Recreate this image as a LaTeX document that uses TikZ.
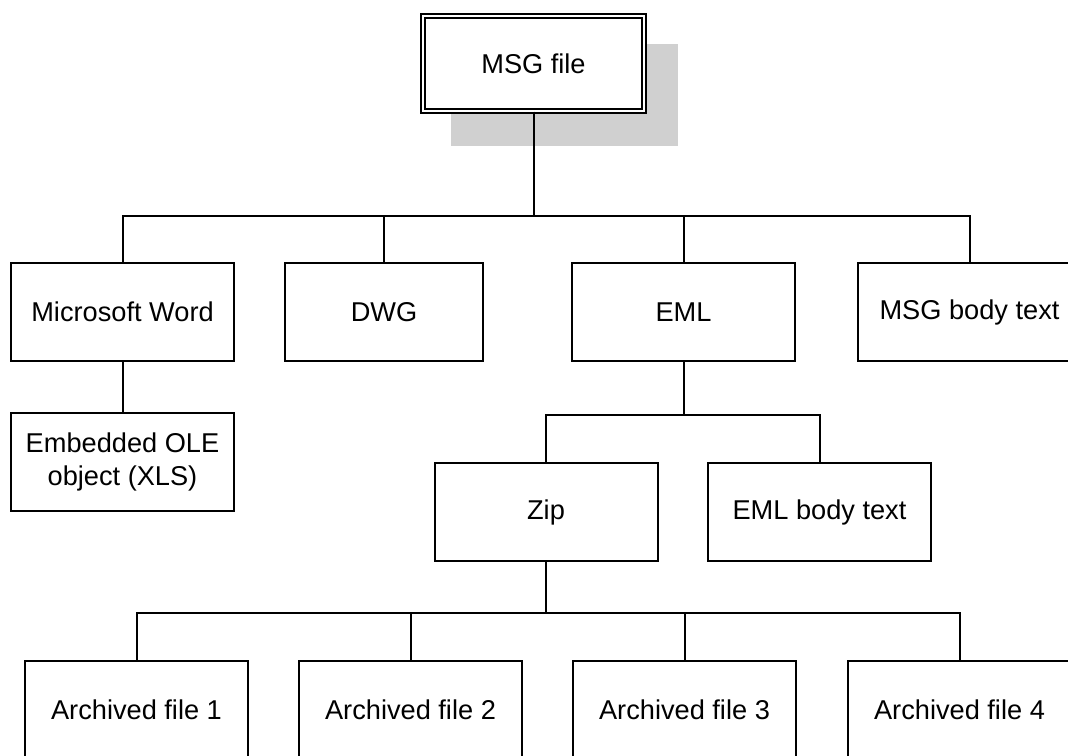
\documentclass[tikz,border=0pt]{standalone}
\usepackage{fontspec}
\setmainfont{Liberation Sans}
\definecolor{shadowgray}{HTML}{D0D0D0}
\begin{document}
\begin{tikzpicture}[x=0.75pt,y=-0.75pt,
  box/.style={draw, line width=1.5pt, fill=white, minimum width=167.25pt, minimum height=73.5pt,
    inner sep=0pt, align=center, font=\fontsize{20.4}{25}\selectfont},
  narrowbox/.style={box, minimum width=148.5pt},
  rootbox/.style={box, double, double distance=1.6pt, line width=1.5pt, minimum width=165.75pt, minimum height=71.25pt},
  shadowbox/.style={fill=shadowgray, draw=none, minimum width=170.25pt, minimum height=76.5pt, inner sep=0pt},
  link/.style={line width=1.5pt}]
\useasboundingbox (0,0) rectangle (1068,756);
\clip (0,0) rectangle (1068,756);
% shadow and root
\node[shadowbox] (shadow) at (564.5,95) {};
\node[rootbox] (msg) at (533.5,63.5) {MSG file};
% row 2
\node[box] (word) at (122.5,312) {Microsoft Word};
\node[narrowbox] (dwg) at (384,312) {DWG};
\node[box] (eml) at (683.5,312) {EML};
\node[box] (msgbody) at (969.5,312) {MSG body text};
% row 3
\node[box] (ole) at (122.5,462) {Embedded OLE\\object (XLS)};
\node[box] (zip) at (546,512) {Zip};
\node[box] (emlbody) at (819.5,512) {EML body text};
% row 4
\node[box] (a1) at (136.5,710) {Archived file 1};
\node[box] (a2) at (410.5,710) {Archived file 2};
\node[box] (a3) at (684.5,710) {Archived file 3};
\node[box] (a4) at (959.5,710) {Archived file 4};
% bus coordinates
\coordinate (bus1) at (533.5,216);
\coordinate (bus2) at (683.5,415);
\coordinate (bus3) at (546,613);
% connectors
\foreach \c in {word,dwg,eml,msgbody}
  \draw[link] (msg.south) -- (bus1) -| (\c.north);
\draw[link] (word.south) -- (ole.north);
\foreach \c in {zip,emlbody}
  \draw[link] (eml.south) -- (bus2) -| (\c.north);
\foreach \c in {a1,a2,a3,a4}
  \draw[link] (zip.south) -- (bus3) -| (\c.north);
\end{tikzpicture}
\end{document}
